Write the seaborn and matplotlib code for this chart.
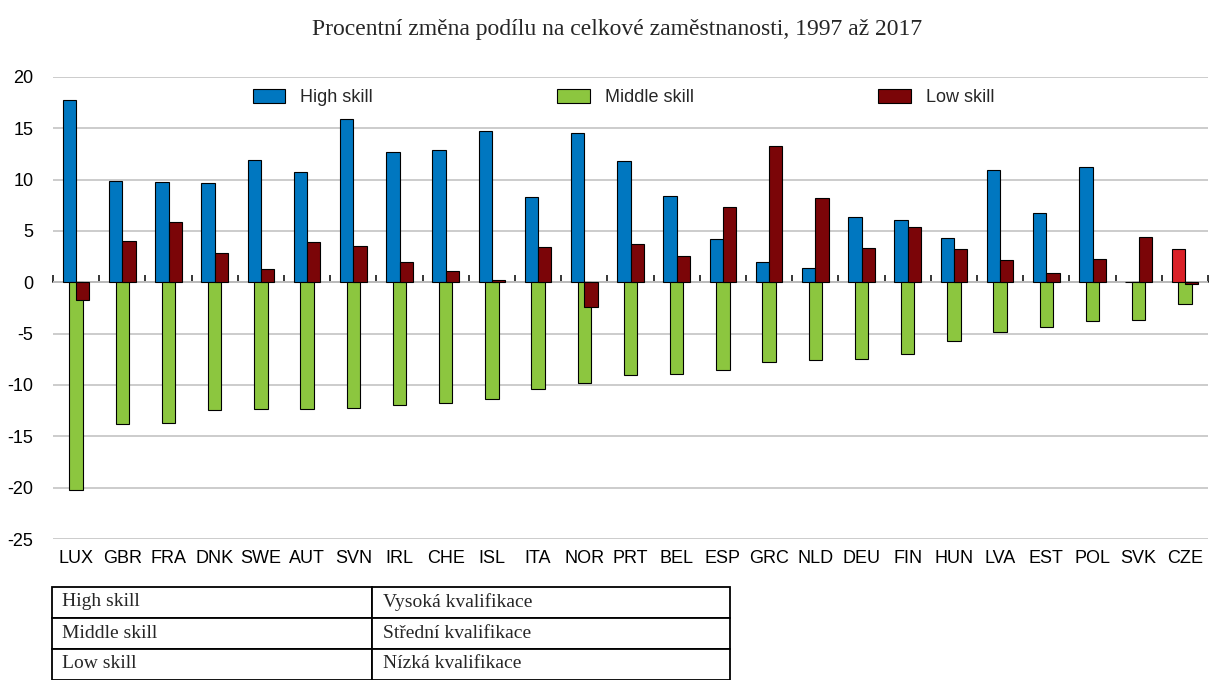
import numpy as np
import matplotlib
matplotlib.use("Agg")
import matplotlib.pyplot as plt
from matplotlib.patches import Patch
import seaborn as sns

# data
countries = ["LUX", "GBR", "FRA", "DNK", "SWE", "AUT", "SVN", "IRL", "CHE", "ISL",
             "ITA", "NOR", "PRT", "BEL", "ESP", "GRC", "NLD", "DEU", "FIN", "HUN",
             "LVA", "EST", "POL", "SVK", "CZE"]
high_skill = [17.8, 9.85, 9.75, 9.7, 11.9, 10.75, 15.95, 12.7, 12.9, 14.7,
              8.35, 14.5, 11.8, 8.4, 4.2, 1.95, 1.4, 6.4, 6.1, 4.3,
              10.95, 6.8, 11.2, 0.05, 3.2]
middle_skill = [-20.2, -13.8, -13.7, -12.45, -12.35, -12.3, -12.2, -11.95, -11.8, -11.4,
                -10.4, -9.8, -9.0, -8.9, -8.5, -7.8, -7.55, -7.45, -6.95, -5.75,
                -4.8, -4.35, -3.8, -3.7, -2.15]
low_skill = [-1.7, 4.05, 5.9, 2.9, 1.3, 3.9, 3.5, 2.0, 1.1, 0.2,
             3.4, -2.4, 3.7, 2.6, 7.3, 13.3, 8.2, 3.3, 5.4, 3.25,
             2.15, 0.9, 2.25, 4.45, -0.2]
series_names = ["High skill", "Middle skill", "Low skill"]
table_en = ["High skill", "Middle skill", "Low skill"]
table_cs = ["Vysoká kvalifikace", "Střední kvalifikace", "Nízká kvalifikace"]
title = "Procentní změna podílu na celkové zaměstnanosti, 1997 až 2017"
highlight = "CZE"

colors = ["#0077C0", "#8CC63F", "#7B0508"]
highlight_color = "#DA2128"

sns.set_theme(style="white")
plt.rcParams["font.family"] = ["Liberation Sans", "DejaVu Sans"]
plt.rcParams["axes.unicode_minus"] = False

W, H = 1209, 680
fig = plt.figure(figsize=(W / 100, H / 100), dpi=100)
ax = fig.add_axes([53 / W, 1 - 539 / H, 1155 / W, 462 / H])

pos = np.arange(len(countries))
bar_w = 0.29
offsets = [-bar_w / 2, 0, bar_w / 2]

for name, vals, off, col in zip(series_names, [high_skill, middle_skill, low_skill], offsets, colors):
    pal = {c: (highlight_color if (name == "High skill" and c == highlight) else col) for c in countries}
    sns.barplot(x=pos + off, y=vals, hue=countries, palette=pal, native_scale=True,
                width=bar_w, dodge=False, legend=False, errorbar=None, saturation=1,
                edgecolor="black", linewidth=0.8, ax=ax)

y0, y1 = -25, 20
ax.set_ylim(y0, y1)
ax.set_yticks(range(-25, 21, 5))
ax.set_xlim(-0.5, len(countries) - 0.5)
ax.set_xticks(pos, countries)
ax.tick_params(axis="x", length=0, pad=8, labelsize=13, colors="black")
ax.tick_params(axis="y", length=0, pad=14, labelsize=13, colors="black")
for s in ax.spines.values():
    s.set_visible(False)
ax.yaxis.grid(True, color="#C8C8C8", linewidth=1.3)
ax.xaxis.grid(False)
ax.set_axisbelow(True)
ax.set_xlabel("")
ax.set_ylabel("")

# zero line with small ticks between the country groups
zero = ax.secondary_xaxis((0 - y0) / (y1 - y0))
zero.set_xticks(np.arange(len(countries) + 1) - 0.5)
zero.tick_params(axis="x", direction="out", length=5, width=1.1, color="black",
                 labeltop=False, labelbottom=False)
for s in ["top", "bottom"]:
    zero.spines[s].set_color("black")
    zero.spines[s].set_linewidth(1.1)

handles = [Patch(facecolor=c, edgecolor="black", linewidth=0.8) for c in colors]
ax.legend(handles, series_names, loc="center", bbox_to_anchor=(0.494, 0.955), ncol=3,
          frameon=False, fontsize=13, columnspacing=10.2, handlelength=1.8,
          handleheight=0.8, handletextpad=0.85)

fig.text(617 / W, 1 - 30 / H, title, ha="center", va="center",
         family=["Liberation Serif", "DejaVu Serif"], fontsize=17)

# translation table underneath
tax = fig.add_axes([52 / W, 0.5 / H, 678 / W, 93 / H])
tax.axis("off")
tbl = tax.table(cellText=[list(r) for r in zip(table_en, table_cs)], cellLoc="left",
                colWidths=[320 / 678, 358 / 678], bbox=[0, 0, 1, 1])
tbl.auto_set_font_size(False)
for cell in tbl.get_celld().values():
    cell.set_linewidth(1.3)
    cell.set_edgecolor("black")
    cell.PAD = 0.03
    cell.get_text().set_fontfamily(["Liberation Serif", "DejaVu Serif"])
    cell.get_text().set_fontsize(14)

fig.savefig("out.png", dpi=100)
